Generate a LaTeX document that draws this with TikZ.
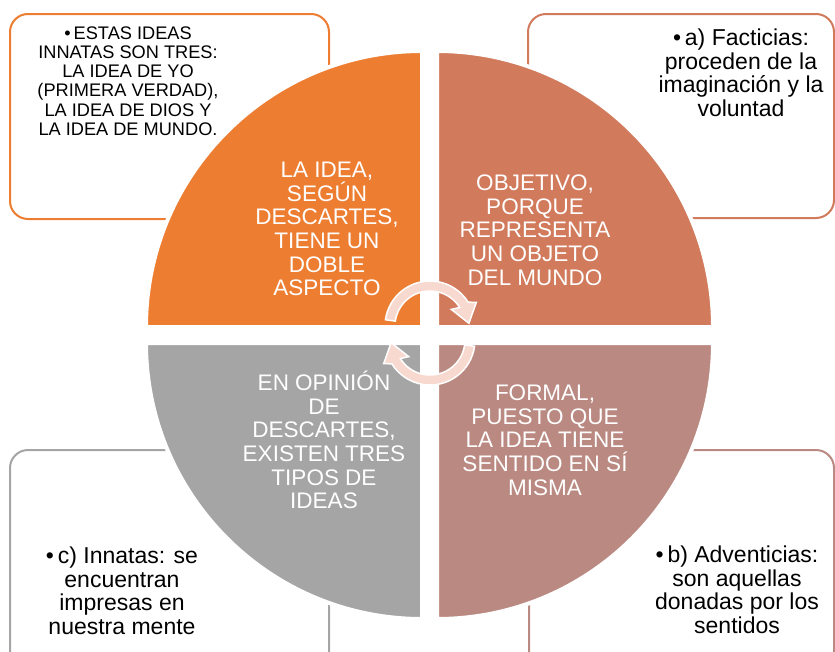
\documentclass[tikz,border=0pt]{standalone}
\usepackage{fontspec}
\setmainfont{Liberation Sans}
\usetikzlibrary{positioning}
\definecolor{naranja}{HTML}{ED7D31}
\definecolor{salmon}{HTML}{D17A5C}
\definecolor{gris}{HTML}{A5A5A5}
\definecolor{rosa}{HTML}{BA8A82}
\definecolor{flecha}{HTML}{F8D9CF}

\begin{document}
\begin{tikzpicture}[x=1pt,y=1pt,
  caja/.style={rounded corners=18pt,line width=2pt},
  cuarto/.style={draw=white,line width=4pt},
  blanco/.style={text=white,align=center,font=\fontsize{22.5}{23.7}\selectfont},
  negro/.style={text=black,align=center,font=\fontsize{23}{23.5}\selectfont},
  chico/.style={text=black,align=center,font=\fontsize{18.2}{19.3}\selectfont},
  giro/.style={fill=flecha,draw=white,line width=1.5pt,line join=miter}]
\useasboundingbox (0,0) rectangle (835,-651);
% cajas de fondo
\draw[caja,naranja] (10,-14) rectangle (329,-219);
\draw[caja,salmon] (528,-14) rectangle (834,-218);
\draw[caja,gris] (10,-450) rectangle (329,-680);
\draw[caja,rosa] (529,-450) rectangle (834,-680);
% circulo en cuatro partes
\path[cuarto,fill=naranja] (422,-327) -- (146,-327) arc[start angle=180,end angle=90,radius=276pt] -- cycle;
\path[cuarto,fill=salmon] (437,-327) -- (437,-51) arc[start angle=90,end angle=0,radius=276pt] -- cycle;
\path[cuarto,fill=gris] (422,-343) -- (146,-343) arc[start angle=180,end angle=270,radius=276pt] -- cycle;
\path[cuarto,fill=rosa] (437,-343) -- (713,-343) arc[start angle=0,end angle=-90,radius=276pt] -- cycle;
% flechas del centro
\coordinate (c1) at (430,-326);
\coordinate (c2) at (430,-340);
\path[giro] ([shift={(c1)}]172:45pt) arc[start angle=172,end angle=32,radius=45pt]
  -- ([shift={(c1)}]27:52pt) -- ([shift={(c1)}]4:39pt) -- ([shift={(c1)}]38:27pt)
  -- ([shift={(c1)}]32:35pt) arc[start angle=32,end angle=172,radius=35pt] -- cycle;
\path[giro] ([shift={(c2)}]352:45pt) arc[start angle=352,end angle=212,radius=45pt]
  -- ([shift={(c2)}]207:52pt) -- ([shift={(c2)}]184:39pt) -- ([shift={(c2)}]218:27pt)
  -- ([shift={(c2)}]212:35pt) arc[start angle=212,end angle=352,radius=35pt] -- cycle;
% textos del circulo
\node[blanco] (doble) at (327,-229) {LA IDEA,\\SEGÚN\\DESCARTES,\\TIENE UN\\DOBLE\\ASPECTO};
\node[blanco] (objetivo) at (535,-230) {OBJETIVO,\\PORQUE\\REPRESENTA\\UN OBJETO\\DEL MUNDO};
\node[blanco] (tipos) at (324,-440) {EN OPINIÓN\\DE\\DESCARTES,\\EXISTEN TRES\\TIPOS DE\\IDEAS};
\node[blanco] (formal) at (545,-440) {FORMAL,\\PUESTO QUE\\LA IDEA TIENE\\SENTIDO EN SÍ\\MISMA};
% textos de las cajas
\node[chico] (innatas) at (128,-81) {•\,ESTAS IDEAS\\INNATAS SON TRES:\\LA IDEA DE YO\\(PRIMERA VERDAD),\\LA IDEA DE DIOS Y\\LA IDEA DE MUNDO.};
\node[negro] (facticias) at (741,-73) {•\,a) Facticias:\\proceden de la\\imaginación y la\\voluntad};
\node[negro] (adventicias) at (737,-590) {•\,b) Adventicias:\\son aquellas\\donadas por los\\sentidos};
\node[negro] (impresas) at (122,-591) {•\,c) Innatas: se\\encuentran\\impresas en\\nuestra mente};
\end{tikzpicture}
\end{document}
